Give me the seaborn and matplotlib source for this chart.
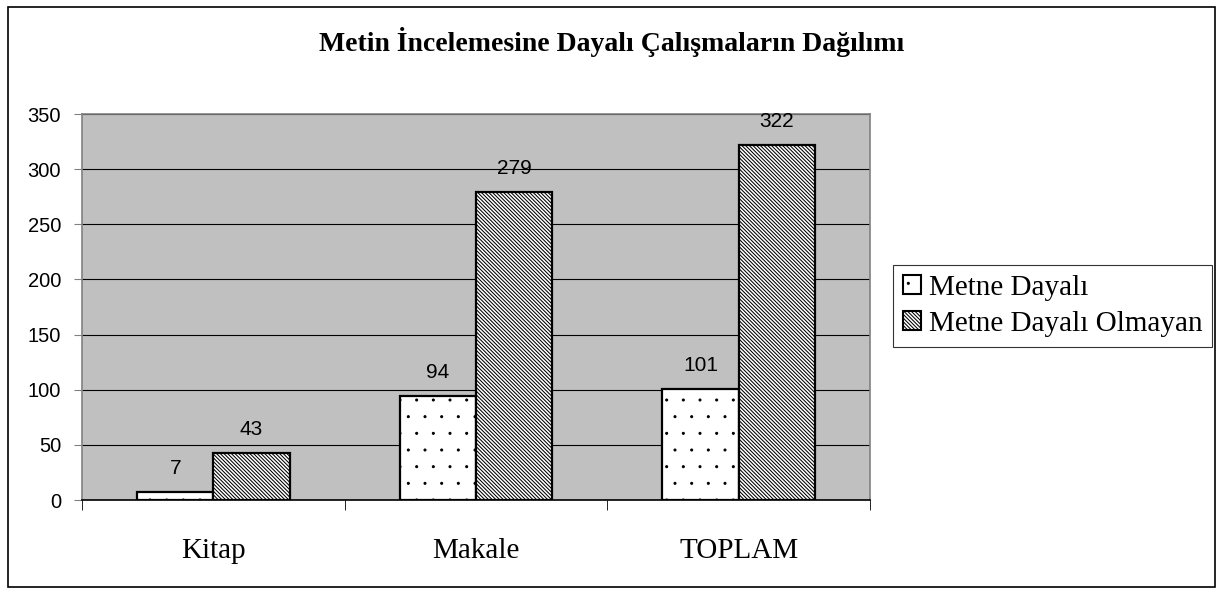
import pandas as pd
import matplotlib.pyplot as plt
import matplotlib.hatch
import seaborn as sns
from matplotlib.patches import Patch, Rectangle

# -----------------------------
# Data
# -----------------------------
categories = ["Kitap", "Makale", "TOPLAM"]
series_names = ["Metne Dayalı", "Metne Dayalı Olmayan"]
metne_dayali = [7, 94, 101]
metne_dayali_olmayan = [43, 279, 322]
y_ticks = [0, 50, 100, 150, 200, 250, 300, 350]

df = pd.DataFrame({
    "Tür": categories * 2,
    "Seri": [series_names[0]] * 3 + [series_names[1]] * 3,
    "Sayı": metne_dayali + metne_dayali_olmayan,
})

sns.set_style("white")
plt.rcParams["hatch.linewidth"] = 0.75
plt.rcParams["hatch.color"] = "black"
plt.rcParams["text.color"] = "black"
plt.rcParams["xtick.color"] = "black"
plt.rcParams["ytick.color"] = "black"

# smaller dots for the dotted pattern (Excel-like)
matplotlib.hatch.SmallFilledCircles.size = 0.06

fig = plt.figure(figsize=(12.23, 5.94), dpi=100)
ax = fig.add_axes([82 / 1223, 1 - 500 / 594, 788 / 1223, 386 / 594])

sns.barplot(
    data=df, x="Tür", y="Sayı", hue="Seri",
    palette=["white", "white"], width=0.58, gap=0,
    edgecolor="black", linewidth=1.6, saturation=1, ax=ax,
    legend=False,
)

hatches = [".", "\\" * 9]
for cont, h in zip(ax.containers, hatches):
    for bar in cont:
        bar.set_hatch(h)
    ax.bar_label(cont, padding=10, fontsize=15, family="Liberation Sans")

ax.set_facecolor("#c0c0c0")
ax.set_xlim(-0.5, 2.5)
ax.set_ylim(0, 350)
ax.set_yticks(y_ticks)
ax.yaxis.grid(True, color="black", linewidth=0.8)
ax.set_axisbelow(True)
ax.set_xlabel("")
ax.set_ylabel("")

ax.set_xticks([0, 1, 2])
ax.set_xticklabels(categories, family="Liberation Serif", fontsize=21)
ax.set_xticks([-0.5, 0.5, 1.5, 2.5], minor=True)
ax.tick_params(axis="x", which="major", length=0, pad=27)
ax.tick_params(axis="x", which="minor", length=7, direction="out", color="black", bottom=True)
ax.tick_params(axis="y", length=6, direction="out", color="gray", left=True,
               labelsize=14.5, labelcolor="black", pad=9)
for lab in ax.get_yticklabels():
    lab.set_family("Liberation Sans")

for s in ["left", "top", "right"]:
    ax.spines[s].set_color("gray")
    ax.spines[s].set_linewidth(1.2)
ax.spines["bottom"].set_color("black")
ax.spines["bottom"].set_linewidth(1.2)

fig.text(612 / 1223, 1 - 42 / 594,
         "Metin İncelemesine Dayalı Çalışmaların Dağılımı",
         ha="center", va="center", fontsize=20, fontweight="bold",
         family="Liberation Serif")

# outer border
fig.patches.append(Rectangle((8 / 1223, 7 / 594), 1207 / 1223, 580 / 594,
                             transform=fig.transFigure, fill=False,
                             edgecolor="black", linewidth=1.2))

handles = [Patch(facecolor="white", edgecolor="black", hatch=h, linewidth=1.5) for h in hatches]
leg = fig.legend(handles, series_names, loc="center left",
                 bbox_to_anchor=(893 / 1223, 1 - 306 / 594),
                 prop={"family": "Liberation Serif", "size": 21},
                 frameon=True, fancybox=False, edgecolor="black",
                 handlelength=0.62, handleheight=0.62, handletextpad=0.25,
                 borderpad=0.35, labelspacing=0.35, borderaxespad=0)
leg.get_frame().set_linewidth(0.8)

fig.savefig("out.png", dpi=100)
